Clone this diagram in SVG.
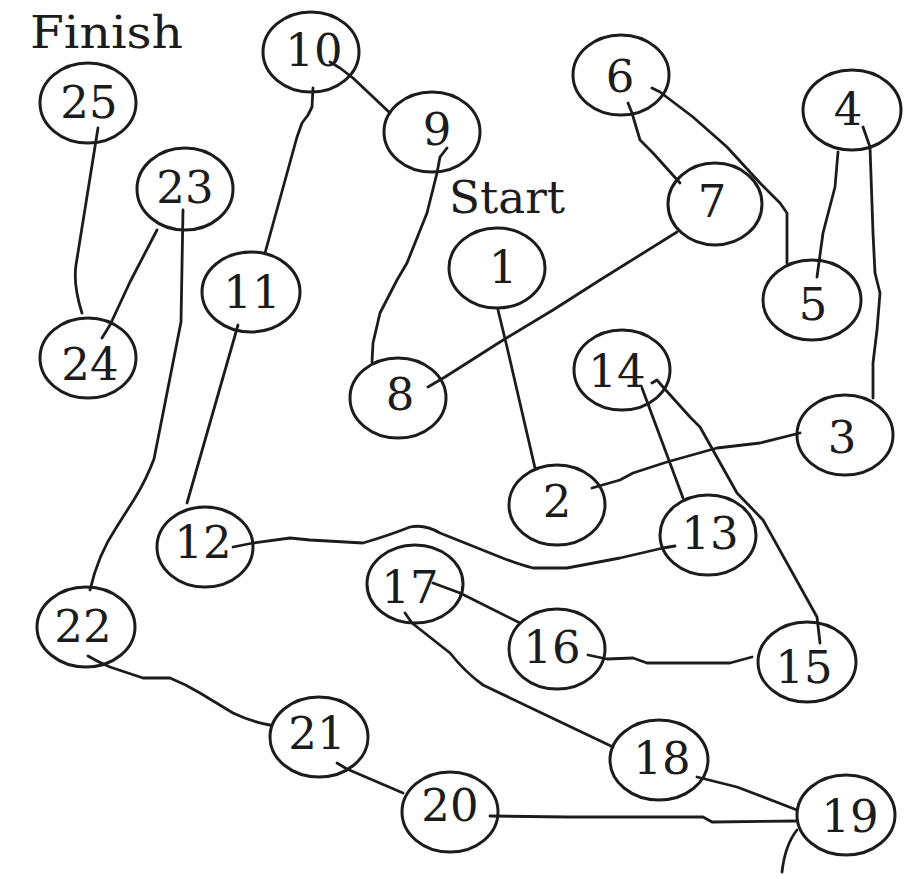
<svg xmlns="http://www.w3.org/2000/svg" width="923" height="879" viewBox="0 0 923 879">
<style>
.n ellipse{fill:none;stroke:#1c1c1c;stroke-width:3}
.n text,.lbl{font-family:"DejaVu Serif","Liberation Serif",serif;font-size:45px;fill:#1c1c1c;text-anchor:middle}
.lbl{text-anchor:start}
#connectors path{fill:none;stroke:#1c1c1c;stroke-width:2.8;stroke-linejoin:round;stroke-linecap:round}
</style>
<rect width="923" height="879" fill="#ffffff"/>
<text class="lbl" x="30" y="48" textLength="153" lengthAdjust="spacingAndGlyphs">Finish</text>
<text class="lbl" x="449" y="213" textLength="116" lengthAdjust="spacingAndGlyphs">Start</text>
<g id="connectors">
<path d="M98,128 L76,265 Q73,285 82,313"/>
<path d="M157,230 L130,282 L110,325 L102,338"/>
<path d="M183,210 L181,322 L154,459 Q146,480 135,498 L116,528 Q98,555 90,590"/>
<path d="M88,656 Q98,662 110,667 L143,678 L170,678 Q185,684 200,693 L233,713 Q252,722 270,725"/>
<path d="M337,763 L347,769 L403,793"/>
<path d="M490,816 L567,817 L703,817 L712,822 L797,821"/>
<path d="M697,777 L737,787 L797,810"/>
<path d="M797,830 Q785,845 782,872"/>
<path d="M405,613 L412,623 L450,653 Q465,672 483,685 L550,717 L613,747"/>
<path d="M433,583 L460,593 L520,623"/>
<path d="M588,655 L607,659 L633,658 L647,663 L730,663 L752,657"/>
<path d="M652,383 L657,380 L663,387 L690,417 L700,427 L737,493 L763,520 L817,617 L820,643"/>
<path d="M642,388 L683,498"/>
<path d="M233,547 L253,543 L290,538 L310,540 L363,543 Q390,535 410,527 Q425,524 440,533 L500,557 Q520,565 533,568 L567,568 L620,558 L633,555 L663,548 L675,546"/>
<path d="M592,488 L620,480 L633,473 L667,462 L717,448 L760,443 L800,433"/>
<path d="M498,310 L507,347 L535,468"/>
<path d="M428,387 L445,377 L500,342 L553,310 L600,280 L677,232"/>
<path d="M447,148 L440,157 L437,173 L427,213 L407,263 L397,280 L380,313 L373,343 L372,362"/>
<path d="M330,62 L340,68 L353,78 L390,113"/>
<path d="M313,88 L312,107 L308,115 L302,123 L297,137 L265,253"/>
<path d="M628,103 L632,113 L640,140 L653,153 L680,183"/>
<path d="M652,88 L660,92 L693,117 L727,147 L760,183 L780,203 L787,213 L787,263"/>
<path d="M838,152 L835,187 L823,233 L817,277"/>
<path d="M863,127 L870,147 L873,233 L875,273 L880,293 L877,330 L873,363 L873,398"/>
<path d="M238,325 L187,503"/>
</g>
<g id="n1" class="n"><ellipse cx="497" cy="268" rx="48" ry="40"/><text x="503" y="283">1</text></g>
<g id="n2" class="n"><ellipse cx="557" cy="505" rx="48" ry="40"/><text x="557" y="517">2</text></g>
<g id="n3" class="n"><ellipse cx="845" cy="435" rx="48" ry="40"/><text x="842" y="453">3</text></g>
<g id="n4" class="n"><ellipse cx="852" cy="110" rx="49" ry="40"/><text x="848" y="125">4</text></g>
<g id="n5" class="n"><ellipse cx="812" cy="300" rx="49" ry="40"/><text x="813" y="320">5</text></g>
<g id="n6" class="n"><ellipse cx="621" cy="75" rx="48" ry="40"/><text x="620" y="92">6</text></g>
<g id="n7" class="n"><ellipse cx="715" cy="204" rx="47" ry="41"/><text x="712" y="217">7</text></g>
<g id="n8" class="n"><ellipse cx="398" cy="398" rx="48" ry="40"/><text x="400" y="410">8</text></g>
<g id="n9" class="n"><ellipse cx="432" cy="132" rx="48" ry="40"/><text x="437" y="145">9</text></g>
<g id="n10" class="n"><ellipse cx="311" cy="52" rx="48" ry="40"/><text x="314" y="66">10</text></g>
<g id="n11" class="n"><ellipse cx="251" cy="292" rx="49" ry="40"/><text x="252" y="308">11</text></g>
<g id="n12" class="n"><ellipse cx="205" cy="547" rx="48" ry="40"/><text x="203" y="558">12</text></g>
<g id="n13" class="n"><ellipse cx="708" cy="535" rx="48" ry="40"/><text x="710" y="549">13</text></g>
<g id="n14" class="n"><ellipse cx="622" cy="370" rx="48" ry="40"/><text x="617" y="387">14</text></g>
<g id="n15" class="n"><ellipse cx="807" cy="662" rx="49" ry="40"/><text x="804" y="683">15</text></g>
<g id="n16" class="n"><ellipse cx="557" cy="649" rx="48" ry="40"/><text x="552" y="663">16</text></g>
<g id="n17" class="n"><ellipse cx="415" cy="584" rx="48" ry="39"/><text x="410" y="603">17</text></g>
<g id="n18" class="n"><ellipse cx="659" cy="760" rx="49" ry="40"/><text x="662" y="774">18</text></g>
<g id="n19" class="n"><ellipse cx="846" cy="815" rx="49" ry="40"/><text x="850" y="832">19</text></g>
<g id="n20" class="n"><ellipse cx="450" cy="812" rx="48" ry="40"/><text x="450" y="821">20</text></g>
<g id="n21" class="n"><ellipse cx="319" cy="737" rx="49" ry="40"/><text x="317" y="749">21</text></g>
<g id="n22" class="n"><ellipse cx="86" cy="627" rx="49" ry="40"/><text x="83" y="642">22</text></g>
<g id="n23" class="n"><ellipse cx="185" cy="189" rx="48" ry="41"/><text x="185" y="203">23</text></g>
<g id="n24" class="n"><ellipse cx="88" cy="358" rx="48" ry="40"/><text x="90" y="380">24</text></g>
<g id="n25" class="n"><ellipse cx="88" cy="103" rx="48" ry="40"/><text x="89" y="118">25</text></g>
</svg>
